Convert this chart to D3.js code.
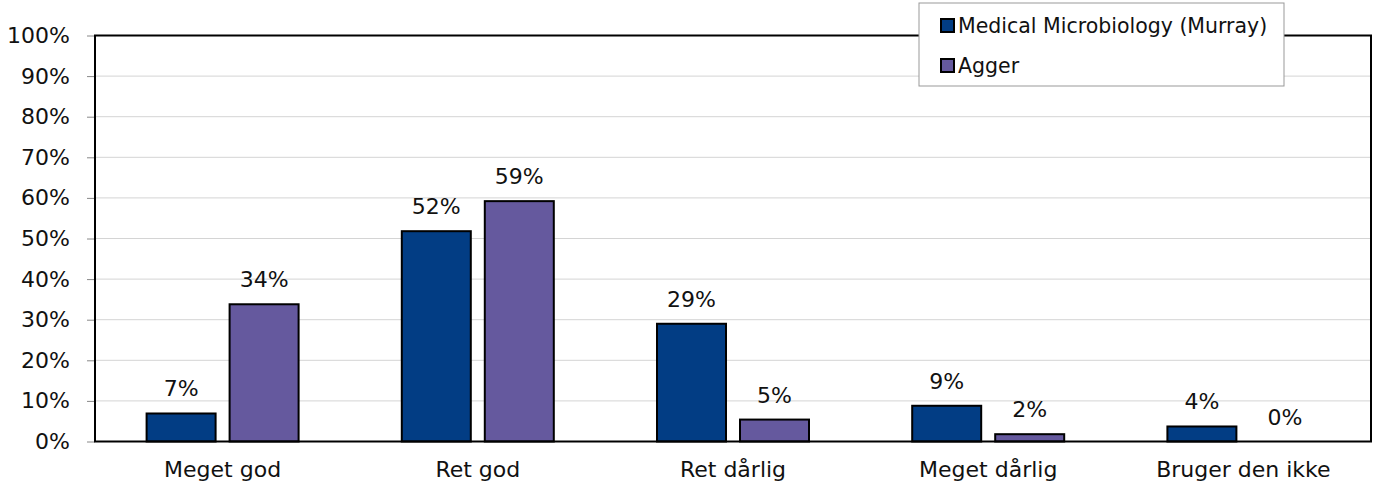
<!DOCTYPE html>
<html>
<head>
<meta charset="utf-8">
<script src="https://cdn.jsdelivr.net/npm/d3@7"></script>
<style>
  body { margin: 0; background: #fff; }
  text { font-family: "DejaVu Sans", sans-serif; fill: #111; }
</style>
</head>
<body>
<script>
// data
const categories = ["Meget god", "Ret god", "Ret dårlig", "Meget dårlig", "Bruger den ikke"];
const seriesNames = ["Medical Microbiology (Murray)", "Agger"];
const murray = [6.9, 51.8, 29.0, 8.8, 3.7];
const agger = [33.8, 59.2, 5.4, 1.8, 0];
const yTicks = [0, 10, 20, 30, 40, 50, 60, 70, 80, 90, 100];
const colors = ["#023d84", "#65599e"];

const W = 1386, H = 490;
const margin = { top: 35.5, right: 15, bottom: 48.5, left: 95 };
const width = W - margin.left - margin.right;
const height = H - margin.top - margin.bottom;

const svg = d3.select("body").append("svg")
    .attr("width", W)
    .attr("height", H);

const g = svg.append("g")
    .attr("transform", `translate(${margin.left},${margin.top})`);

const x = d3.scaleBand()
  .domain(categories)
  .range([0, width]);

const y = d3.scaleLinear()
  .domain([0, 100])
  .range([height, 0]);

// gridlines
g.append("g")
  .selectAll("line")
  .data(yTicks.filter(d => d > 0 && d < 100))
  .enter().append("line")
  .attr("x1", 0).attr("x2", width)
  .attr("y1", d => y(d)).attr("y2", d => y(d))
  .attr("stroke", "#d4d4d4")
  .attr("stroke-width", 1);

// y axis
const yAxis = d3.axisLeft(y)
  .tickValues(yTicks)
  .tickSize(8)
  .tickPadding(17)
  .tickFormat(d => d + "%");

g.append("g")
  .attr("class", "y axis")
  .call(yAxis)
  .call(s => s.select(".domain").remove())
  .call(s => s.selectAll(".tick line").attr("stroke", "#888"))
  .selectAll("text")
  .style("font-size", "22px")
  .attr("fill", "#111");

// x axis labels
g.append("g")
  .attr("transform", `translate(0,${height})`)
  .call(d3.axisBottom(x).tickSize(0).tickPadding(20))
  .call(s => s.select(".domain").remove())
  .selectAll("text")
  .style("font-size", "22px")
  .attr("fill", "#111");

// bars
const offset = 41.5, barW = 69;
const series = [murray, agger];
series.forEach((vals, si) => {
  const cx = d => x(d) + x.bandwidth() / 2 + (si === 0 ? -offset : offset);
  g.append("g")
    .selectAll("rect")
    .data(categories)
    .enter().append("rect")
    .attr("x", d => cx(d) - barW / 2)
    .attr("width", barW)
    .attr("y", (d, i) => y(vals[i]))
    .attr("height", (d, i) => height - y(vals[i]))
    .attr("fill", colors[si])
    .attr("stroke", "#000")
    .attr("stroke-width", 2);

  g.append("g")
    .selectAll("text")
    .data(categories)
    .enter().append("text")
    .attr("x", d => cx(d))
    .attr("y", (d, i) => y(vals[i]) - 17)
    .attr("text-anchor", "middle")
    .style("font-size", "22px")
    .text((d, i) => Math.round(vals[i]) + "%");
});

// plot frame
g.append("rect")
  .attr("width", width)
  .attr("height", height)
  .attr("fill", "none")
  .attr("stroke", "#000")
  .attr("stroke-width", 2);

// legend
const legend = svg.append("g").attr("transform", "translate(919,3)");
legend.append("rect")
  .attr("width", 365)
  .attr("height", 83)
  .attr("fill", "#fff")
  .attr("stroke", "#999")
  .attr("stroke-width", 1);

seriesNames.forEach((name, i) => {
  const row = legend.append("g").attr("transform", `translate(22,${16 + i * 40})`);
  row.append("rect")
    .attr("width", 13).attr("height", 13)
    .attr("fill", colors[i])
    .attr("stroke", "#000")
    .attr("stroke-width", 2);
  row.append("text")
    .attr("x", 17)
    .attr("y", 14)
    .style("font-size", "20.5px")
    .text(name);
});
</script>
</body>
</html>
